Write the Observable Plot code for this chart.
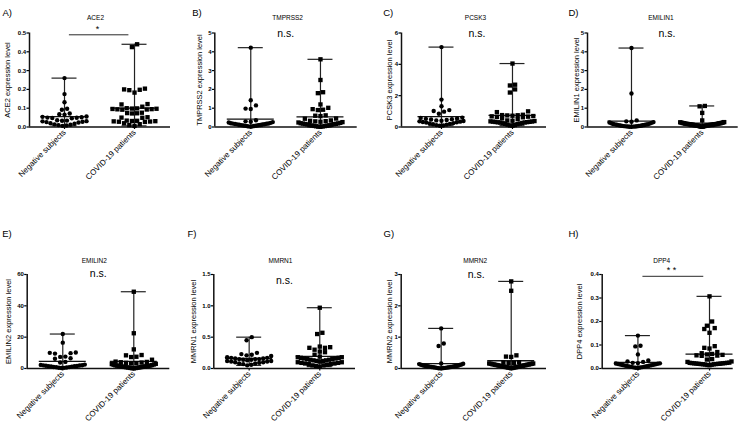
<!DOCTYPE html>
<html><head><meta charset="utf-8">
<script src="https://cdn.jsdelivr.net/npm/d3@7"></script>
<script src="https://cdn.jsdelivr.net/npm/@observablehq/plot@0.6"></script>
<style>
html,body{margin:0;padding:0;background:#fff;color:#000;}
#chart{position:relative;width:745px;height:425px;overflow:hidden;font-family:"Liberation Sans",Arial,sans-serif;}
#chart svg{position:absolute;overflow:visible;background:transparent;}
</style></head><body><div id="chart"></div>
<script>
// ---------- data ----------
const groups = ["Negative subjects", "COVID-19 patients"];
const genes = ["ACE2", "TMPRSS2", "PCSK3", "EMILIN1", "EMILIN2", "MMRN1", "MMRN2", "DPP4"];
const letters = ["A)", "B)", "C)", "D)", "E)", "F)", "G)", "H)"];
const significance = ["*", "n.s.", "n.s.", "n.s.", "n.s.", "n.s.", "n.s.", "**"];
const yMax = [0.5, 5, 6, 5, 60, 1.5, 3, 0.4];
const yTicks = [
  [0, 0.1, 0.2, 0.3, 0.4, 0.5],
  [0, 1, 2, 3, 4, 5],
  [0, 2, 4, 6],
  [0, 1, 2, 3, 4, 5],
  [0, 20, 40, 60],
  [0, 0.5, 1.0, 1.5],
  [0, 1, 2, 3],
  [0, 0.1, 0.2, 0.3, 0.4]
];
const yTickFormat = [".1f", "d", "d", "d", "d", ".1f", "d", ".1f"];

const ace2Neg = [0.26, 0.175, 0.132, 0.097, 0.092, 0.072, 0.068, 0.066, 0.056, 0.054, 0.052, 0.05, 0.049, 0.048, 0.046,
  0.036, 0.034, 0.033, 0.031, 0.03, 0.028, 0.026, 0.024, 0.02, 0.017, 0.014, 0.012, 0.01, 0.008, 0.006];
const ace2Cov = [0.44, 0.425, 0.204, 0.2, 0.198, 0.196, 0.183, 0.122, 0.12, 0.108, 0.1, 0.099, 0.098, 0.097, 0.096,
  0.095, 0.094, 0.093, 0.092, 0.076, 0.074, 0.073, 0.072, 0.052, 0.05, 0.049, 0.034, 0.033, 0.032, 0.031, 0.03,
  0.029, 0.028, 0.027, 0.02, 0.015, 0.01, 0.006];
const tmprss2Neg = [4.22, 1.42, 1.15, 0.98, 0.96, 0.36, 0.3, 0.28, 0.26, 0.24, 0.22, 0.2, 0.19, 0.18, 0.17, 0.16,
  0.15, 0.14, 0.13, 0.12, 0.11, 0.1, 0.09, 0.08, 0.07, 0.06, 0.05, 0.04, 0.03, 0.02];
const tmprss2Cov = [3.6, 2.5, 1.85, 1.8, 1.2, 1.02, 0.95, 0.92, 0.9, 0.62, 0.6, 0.58, 0.45, 0.44, 0.35, 0.33, 0.31,
  0.3, 0.28, 0.26, 0.24, 0.22, 0.2, 0.19, 0.18, 0.17, 0.16, 0.15, 0.14, 0.12, 0.1, 0.09, 0.08, 0.07, 0.06, 0.05,
  0.04, 0.03, 0.02, 0.01];
const pcsk3Neg = [5.1, 1.75, 1.32, 1.08, 1.02, 0.98, 0.85, 0.6, 0.58, 0.55, 0.52, 0.5, 0.48, 0.45, 0.42, 0.4, 0.38,
  0.36, 0.34, 0.32, 0.3, 0.28, 0.25, 0.22, 0.2, 0.18, 0.15, 0.12, 0.1, 0.08];
const pcsk3Cov = [4.05, 2.7, 2.65, 2.4, 2.2, 1.0, 0.95, 0.78, 0.76, 0.75, 0.74, 0.72, 0.7, 0.68, 0.66, 0.64, 0.62,
  0.55, 0.5, 0.42, 0.4, 0.38, 0.36, 0.35, 0.34, 0.33, 0.32, 0.31, 0.3, 0.29, 0.28, 0.26, 0.24, 0.22, 0.2, 0.18,
  0.15, 0.12, 0.1, 0.08];
const emilin1Neg = [4.2, 1.78, 0.35, 0.3, 0.28, 0.26, 0.24, 0.22, 0.2, 0.18, 0.16, 0.15, 0.14, 0.13, 0.12, 0.11, 0.1,
  0.09, 0.08, 0.07, 0.06, 0.05, 0.045, 0.04, 0.035, 0.03, 0.025, 0.02, 0.015, 0.01];
const emilin1Cov = [1.12, 1.1, 0.75, 0.35, 0.26, 0.25, 0.24, 0.23, 0.22, 0.21, 0.2, 0.2, 0.19, 0.18, 0.18, 0.17, 0.16,
  0.16, 0.15, 0.15, 0.14, 0.14, 0.13, 0.13, 0.12, 0.12, 0.11, 0.1, 0.1, 0.09, 0.09, 0.08, 0.08, 0.07, 0.06, 0.05,
  0.04, 0.03, 0.02, 0.01];
const emilin2Neg = [22, 16.5, 10.2, 10, 9.8, 9.5, 7.6, 7.4, 6.5, 6.2, 4.2, 3.8, 2.5, 2.3, 2.1, 2.0, 1.9, 1.8, 1.6,
  1.5, 1.4, 1.3, 1.2, 1.0, 0.9, 0.8, 0.6, 0.5, 0.4, 0.3];
const emilin2Cov = [49, 22.5, 12.2, 8.6, 8.4, 7.5, 7.3, 5.6, 4.4, 4.2, 4.0, 3.8, 3.6, 3.4, 3.2, 3.0, 2.8, 2.6, 2.4,
  2.2, 2.0, 1.9, 1.8, 1.7, 1.6, 1.5, 1.4, 1.3, 1.2, 1.1, 1.0, 0.9, 0.8, 0.7, 0.6, 0.5, 0.4, 0.3, 0.2, 0.1];
const mmrn1Neg = [0.5, 0.45, 0.25, 0.23, 0.22, 0.21, 0.2, 0.18, 0.17, 0.17, 0.16, 0.16, 0.15, 0.15, 0.15, 0.14, 0.14,
  0.13, 0.12, 0.12, 0.11, 0.11, 0.1, 0.1, 0.09, 0.08, 0.08, 0.07, 0.06, 0.05];
const mmrn1Cov = [0.97, 0.57, 0.55, 0.35, 0.34, 0.33, 0.33, 0.3, 0.27, 0.26, 0.22, 0.19, 0.18, 0.18, 0.17, 0.17, 0.16,
  0.16, 0.15, 0.15, 0.14, 0.14, 0.13, 0.13, 0.12, 0.12, 0.11, 0.1, 0.1, 0.09, 0.09, 0.08, 0.08, 0.07, 0.07, 0.06,
  0.05, 0.05, 0.04, 0.03];
const mmrn2Neg = [1.28, 0.8, 0.72, 0.16, 0.15, 0.14, 0.13, 0.12, 0.11, 0.1, 0.09, 0.09, 0.08, 0.08, 0.07, 0.07, 0.06,
  0.06, 0.05, 0.05, 0.04, 0.04, 0.03, 0.03, 0.02, 0.02, 0.015, 0.01, 0.008, 0.005];
const mmrn2Cov = [2.78, 2.48, 0.42, 0.38, 0.37, 0.2, 0.19, 0.18, 0.17, 0.16, 0.16, 0.15, 0.15, 0.14, 0.14, 0.13, 0.13,
  0.12, 0.12, 0.11, 0.11, 0.1, 0.1, 0.09, 0.09, 0.08, 0.08, 0.07, 0.07, 0.06, 0.06, 0.05, 0.05, 0.04, 0.04, 0.03,
  0.03, 0.02, 0.02, 0.01];
const dpp4Neg = [0.14, 0.097, 0.094, 0.06, 0.034, 0.03, 0.028, 0.024, 0.023, 0.022, 0.021, 0.02, 0.019, 0.018, 0.017,
  0.016, 0.015, 0.014, 0.013, 0.012, 0.011, 0.01, 0.009, 0.008, 0.007, 0.006, 0.005, 0.004, 0.003, 0.002];
const dpp4Cov = [0.307, 0.2, 0.182, 0.172, 0.168, 0.152, 0.095, 0.088, 0.085, 0.07, 0.065, 0.062, 0.06, 0.058, 0.056,
  0.055, 0.054, 0.04, 0.038, 0.03, 0.028, 0.025, 0.024, 0.024, 0.023, 0.023, 0.022, 0.022, 0.021, 0.021, 0.02, 0.02,
  0.019, 0.019, 0.018, 0.018, 0.017, 0.016, 0.015, 0.014];

const negValues = [ace2Neg, tmprss2Neg, pcsk3Neg, emilin1Neg, emilin2Neg, mmrn1Neg, mmrn2Neg, dpp4Neg];
const covValues = [ace2Cov, tmprss2Cov, pcsk3Cov, emilin1Cov, emilin2Cov, mmrn1Cov, mmrn2Cov, dpp4Cov];

// ---------- layout (pixels) ----------
const TOP = {top: 0, height: 212, mt: 32.5, mb: 85.5};
const BOT = {top: 212, height: 213, mt: 62, mb: 57};
const layout = [
  {...TOP, left: 0,   width: 185, ml: 29,   mr: 15,   xd: [-0.5, 1.514],   labelDx: -22,   letterDx: -27,   letterDy: -20.5, titleDy: -15.5, titleDx: -4,  sigDy: 0.5},
  {...TOP, left: 185, width: 185, ml: 29.3, mr: 13.3, xd: [-0.516, 1.527], labelDx: -15.3, letterDx: -22.6, letterDy: -20.5, titleDy: -15.5, titleDx: 2,   sigDy: 0.5},
  {...TOP, left: 370, width: 185, ml: 31,   mr: 9,    xd: [-0.563, 1.479], labelDx: -12,   letterDx: -18.3, letterDy: -20.5, titleDy: -15.5, titleDx: -1.5, sigDy: 0.5},
  {...TOP, left: 555, width: 190, ml: 32,   mr: 7.3,  xd: [-0.622, 1.509], labelDx: -11,   letterDx: -19,   letterDy: -20.5, titleDy: -15.5, titleDx: -6,  sigDy: 0.5},
  {...BOT, left: 0,   width: 185, ml: 26.7, mr: 15.7, xd: [-0.501, 1.507], labelDx: -18.5, letterDx: -25,   letterDy: -40.5, titleDy: -13.5, titleDx: -4,  sigDy: -0.5},
  {...BOT, left: 185, width: 185, ml: 28.3, mr: 15,   xd: [-0.501, 1.506], labelDx: -20.3, letterDx: -26.3, letterDy: -40.5, titleDy: -13.5, titleDx: -4,  sigDy: 6},
  {...BOT, left: 370, width: 185, ml: 30.7, mr: 9,    xd: [-0.571, 1.504], labelDx: -12,   letterDx: -17.7, letterDy: -40.5, titleDy: -13.5, titleDx: -1,  sigDy: 0.5},
  {...BOT, left: 555, width: 190, ml: 46.7, mr: 12.3, xd: [-0.499, 1.331], labelDx: -22.5, letterDx: -33.7, letterDy: -40.5, titleDy: -13.5, titleDx: -12, sigDy: -3}
];

const FONT = '"Liberation Sans", Arial, sans-serif';
const ROW = 4.8;      // row height for grouping, px
const STEP = 5.2;     // preferred spacing inside a row, px
const MAXHALF = 22;   // max half-width of a row, px

// row-based scatter layout (values keep their true y; x offsets spread centre-out)
function swarm(vals, k) {
  const order = d3.range(vals.length).sort((a, b) => vals[a] - vals[b]);
  const off = new Array(vals.length);
  let row = [], start = 0;
  const flush = () => {
    const n = row.length;
    const step = n > 1 ? Math.min(STEP, 2 * MAXHALF / (n - 1)) : 0;
    row.forEach((idx, r) => {
      let pos;
      if (n % 2 === 1) { const m = Math.ceil(r / 2); pos = r === 0 ? 0 : (r % 2 ? -m : m); }
      else { const m = Math.floor(r / 2) + 0.5; pos = r % 2 === 0 ? -m : m; }
      off[idx] = pos * step;
    });
    row = [];
  };
  for (const i of order) {
    const y = vals[i] * k;
    if (row.length && y - start >= ROW) flush();
    if (!row.length) start = y;
    row.push(i);
  }
  flush();
  return off;
}

function makePanel(i) {
  const L = layout[i];
  const ymax = yMax[i];
  const ph = L.height - L.mt - L.mb;
  const pw = L.width - L.ml - L.mr;
  const k = ph / ymax;
  const s = pw / (L.xd[1] - L.xd[0]);
  const sets = [negValues[i], covValues[i]];
  const pts = sets.map((vals, g) => {
    const off = swarm(vals, k);
    return vals.map((v, j) => ({g, v, xp: g + off[j] / s}));
  });
  const stats = sets.map((vals, g) => ({g, mean: d3.mean(vals), min: d3.min(vals), max: d3.max(vals)}));
  const cap = 12.5 / s, half = 23.5 / s;
  const txt = {fill: "#000", lineAnchor: "middle"};
  const marks = [
    Plot.axisY({ticks: yTicks[i], tickFormat: d3.format(yTickFormat[i]), tickSize: 2.5, tickPadding: 0.8,
      fontSize: 6, fontWeight: "bold", label: null, strokeWidth: 1.2, fill: "#000"}),
    Plot.axisX({ticks: [0, 1], tickFormat: j => groups[j], tickRotate: -45, tickSize: 2.5, tickPadding: 1.5,
      fontSize: 8, label: null, strokeWidth: 1.2, fill: "#000"}),
    Plot.ruleY([0], {stroke: "#111", strokeWidth: 1.5}),
    Plot.ruleX([L.xd[0]], {y1: 0, y2: ymax, stroke: "#111", strokeWidth: 1.5}),
    Plot.ruleX(stats, {x: "g", y1: "min", y2: "max", stroke: "#222", strokeWidth: 1.2}),
    Plot.ruleY(stats, {y: "max", x1: d => d.g - cap, x2: d => d.g + cap, stroke: "#222", strokeWidth: 1.2}),
    Plot.ruleY(stats, {y: "min", x1: d => d.g - cap, x2: d => d.g + cap, stroke: "#222", strokeWidth: 1.2}),
    Plot.ruleY(stats, {y: "mean", x1: d => d.g - half, x2: d => d.g + half, stroke: "#111", strokeWidth: 1.3}),
    Plot.dot(pts[0], {x: "xp", y: "v", r: 2.2, fill: "#000", symbol: "circle"}),
    Plot.dot(pts[1], {x: "xp", y: "v", r: 2.45, fill: "#000", symbol: "square"}),
    Plot.text([genes[i]], {...txt, x: () => 0.5, frameAnchor: "top", textAnchor: "middle", dy: L.titleDy, dx: L.titleDx, fontSize: 6.5}),
    Plot.text([letters[i]], {...txt, frameAnchor: "top-left", textAnchor: "start", dx: L.letterDx, dy: L.letterDy, fontSize: 9.5}),
    Plot.text([genes[i] + " expression level"], {...txt, frameAnchor: "left", textAnchor: "middle", rotate: -90, dx: L.labelDx, fontSize: 7.5})
  ];
  const sig = significance[i];
  if (sig === "n.s.") {
    marks.push(Plot.text([sig], {...txt, x: () => 0.5, frameAnchor: "top", textAnchor: "middle", dy: L.sigDy, fontSize: 10.5}));
  } else {
    marks.push(Plot.ruleY([ymax], {x1: 0.07, x2: 0.92, dy: 1.8, stroke: "#111", strokeWidth: 0.9}));
    marks.push(Plot.text([sig.split("").join(" ")], {...txt, x: () => 0.47, frameAnchor: "top", textAnchor: "middle", dy: -4, fontSize: 9}));
  }
  const svg = Plot.plot({
    width: L.width, height: L.height,
    marginLeft: L.ml, marginRight: L.mr, marginTop: L.mt, marginBottom: L.mb,
    x: {domain: L.xd, label: null},
    y: {domain: [0, ymax], label: null},
    style: {fontFamily: FONT, background: "transparent", overflow: "visible", color: "#000"},
    marks
  });
  svg.style.left = L.left + "px";
  svg.style.top = L.top + "px";
  return svg;
}

const chart = document.getElementById("chart");
for (let i = 0; i < 8; i++) chart.appendChild(makePanel(i));
</script>
</body></html>
